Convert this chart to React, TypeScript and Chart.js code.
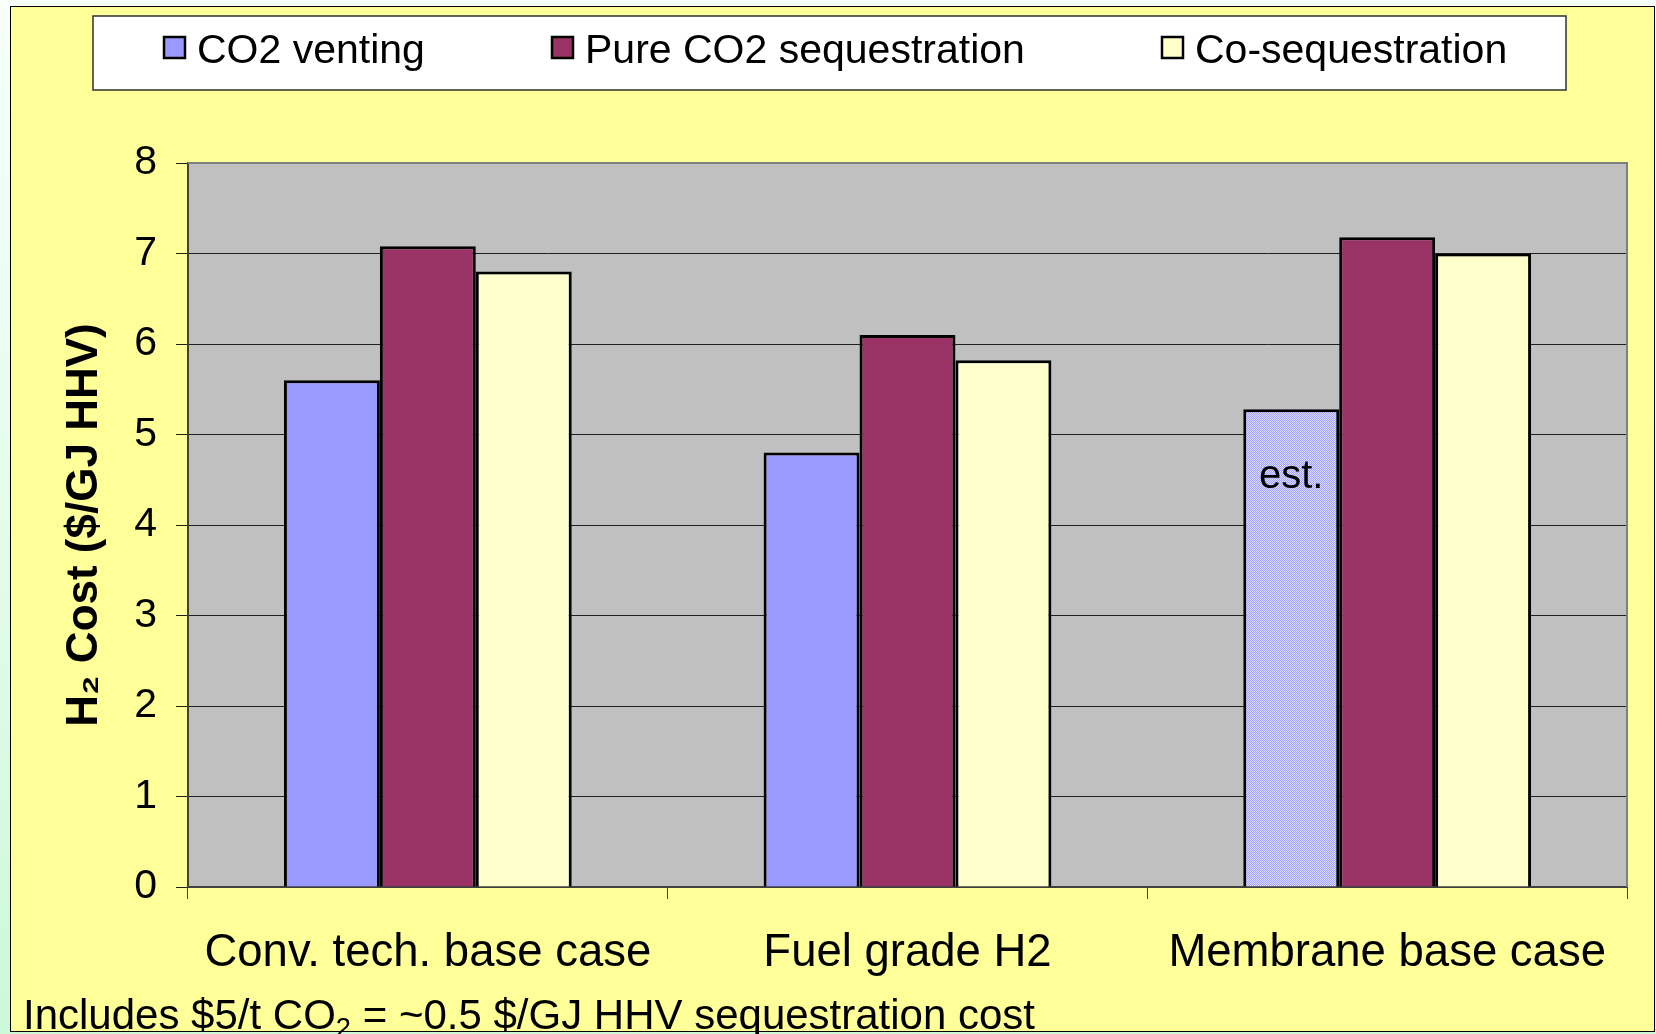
import React, { useEffect, useRef } from 'react';
import { Chart, registerables } from 'chart.js';

Chart.register(...registerables);

// ---------- data ----------
const categories = ['Conv. tech. base case', 'Fuel grade H2', 'Membrane base case'];
const seriesNames = ['CO2 venting', 'Pure CO2 sequestration', 'Co-sequestration'];
const co2Venting = [5.6, 4.8, 5.28];
const pureSequestration = [7.08, 6.1, 7.18];
const coSequestration = [6.8, 5.82, 7.0];
const ventingIsEstimate = [false, false, true];
const estimateLabel = 'est.';
const yMin = 0;
const yMax = 8;
const yStep = 1;
const yTitle = 'H₂ Cost ($/GJ HHV)';

// ---------- layout / style ----------
const W = 1656;
const H = 1034;
const PLOT_LEFT = 188;
const PLOT_RIGHT = 1627;
const PLOT_TOP = 163;
const PLOT_BOTTOM = 887;
const FONT = "'Liberation Sans', Arial, Helvetica, sans-serif";
const COLORS = ['#9999ff', '#993366', '#ffffcc'];
const PLOT_BG = '#c0c0c0';

function makeEstimatePattern(): CanvasPattern | string {
  const c = document.createElement('canvas');
  c.width = 2;
  c.height = 2;
  const g = c.getContext('2d');
  if (!g) return '#c4c4ff';
  g.fillStyle = '#dcdcff';
  g.fillRect(0, 0, 2, 2);
  g.fillStyle = '#a4a4ff';
  g.fillRect(0, 0, 1, 1);
  g.fillRect(1, 1, 1, 1);
  const p = g.createPattern(c, 'repeat');
  return p || '#c4c4ff';
}

const plotBackground = {
  id: 'plotBackground',
  beforeDraw(chart: any) {
    const { ctx, chartArea: a } = chart;
    ctx.save();
    ctx.fillStyle = PLOT_BG;
    ctx.fillRect(a.left, a.top, a.right - a.left, a.bottom - a.top);
    ctx.restore();
  },
  beforeDatasetsDraw(chart: any) {
    const { ctx, chartArea: a } = chart;
    ctx.save();
    ctx.strokeStyle = '#808080';
    ctx.lineWidth = 2;
    ctx.beginPath();
    ctx.moveTo(a.left, a.top);
    ctx.lineTo(a.right, a.top);
    ctx.lineTo(a.right, a.bottom);
    ctx.stroke();
    ctx.restore();
  },
};

const estimateText = {
  id: 'estimateText',
  afterDatasetsDraw(chart: any) {
    const { ctx } = chart;
    const meta = chart.getDatasetMeta(0);
    ctx.save();
    ctx.fillStyle = '#000';
    ctx.font = `40px ${FONT}`;
    ctx.textAlign = 'center';
    ctx.textBaseline = 'alphabetic';
    meta.data.forEach((el: any, i: number) => {
      if (ventingIsEstimate[i]) ctx.fillText(estimateLabel, el.x, el.y + 79);
    });
    ctx.restore();
  },
};

const boxLegend = {
  id: 'boxLegend',
  afterDraw(chart: any) {
    const { ctx } = chart;
    ctx.save();
    ctx.fillStyle = '#ffffff';
    ctx.fillRect(93, 16, 1566 - 93, 90 - 16);
    ctx.strokeStyle = '#303030';
    ctx.lineWidth = 1.5;
    ctx.strokeRect(93, 16, 1566 - 93, 90 - 16);
    const boxX = [164, 552, 1162];
    const boxTop = 37;
    const boxSize = 21;
    ctx.font = `41px ${FONT}`;
    ctx.textBaseline = 'alphabetic';
    ctx.textAlign = 'left';
    chart.data.datasets.forEach((ds: any, i: number) => {
      const bg = Array.isArray(ds.backgroundColor) ? ds.backgroundColor[0] : ds.backgroundColor;
      ctx.fillStyle = bg;
      ctx.fillRect(boxX[i], boxTop, boxSize, boxSize);
      ctx.strokeStyle = '#000';
      ctx.lineWidth = 2.5;
      ctx.strokeRect(boxX[i], boxTop, boxSize, boxSize);
      ctx.fillStyle = '#000';
      ctx.fillText(ds.label, boxX[i] + 33, 63);
    });
    ctx.restore();
  },
};

export default function App() {
  const canvasRef = useRef<HTMLCanvasElement | null>(null);

  useEffect(() => {
    const canvas = canvasRef.current;
    if (!canvas) return;
    const estPattern = makeEstimatePattern();
    const ventingColors = ventingIsEstimate.map((e) => (e ? estPattern : COLORS[0]));

    const common = {
      borderColor: '#000',
      borderWidth: 3,
      categoryPercentage: 0.6,
      barPercentage: 1.0,
    };

    const chart = new Chart(canvas, {
      type: 'bar',
      data: {
        labels: categories,
        datasets: [
          { label: seriesNames[0], data: co2Venting, backgroundColor: ventingColors as any, ...common },
          { label: seriesNames[1], data: pureSequestration, backgroundColor: COLORS[1], ...common },
          { label: seriesNames[2], data: coSequestration, backgroundColor: COLORS[2], ...common },
        ],
      },
      options: {
        animation: false,
        responsive: false,
        devicePixelRatio: 1,
        layout: { padding: { left: 0, right: W - PLOT_RIGHT, top: PLOT_TOP, bottom: 0 } },
        plugins: {
          legend: { display: false },
          tooltip: { enabled: false },
          title: { display: false },
        },
        scales: {
          x: {
            grid: {
              display: true,
              drawOnChartArea: false,
              drawTicks: true,
              tickLength: 12,
              color: '#404040',
              lineWidth: 1,
              offset: true,
            },
            border: { display: true, color: '#404040', width: 2 },
            ticks: {
              font: { family: FONT, size: 45.5 },
              color: '#000',
              padding: 27,
              maxRotation: 0,
              autoSkip: false,
            },
            afterFit: (s: any) => {
              s.height = H - PLOT_BOTTOM;
            },
          },
          y: {
            min: yMin,
            max: yMax,
            ticks: {
              stepSize: yStep,
              font: { family: FONT, size: 41 },
              color: '#000',
              padding: 19,
            },
            grid: { color: '#202020', lineWidth: 1, tickLength: 12, drawTicks: true },
            border: { display: true, color: '#404040', width: 2 },
            title: {
              display: true,
              text: yTitle,
              font: { family: FONT, size: 44, weight: 'bold' },
              color: '#000',
              padding: { top: 58, bottom: 0 },
            },
            afterFit: (s: any) => {
              s.width = PLOT_LEFT;
            },
          },
        },
      } as any,
      plugins: [plotBackground, estimateText, boxLegend],
    });
    return () => chart.destroy();
  }, []);

  return (
    <div
      style={{
        position: 'absolute',
        left: 0,
        top: 0,
        width: W,
        height: H,
        overflow: 'hidden',
        background: 'linear-gradient(to bottom, #f6fff9 0%, #e4fcea 50%, #ccf9d8 100%)',
      }}
    >
      <div
        style={{
          position: 'absolute',
          left: 10,
          top: 6,
          width: 1645,
          height: 1026,
          boxSizing: 'border-box',
          border: '1.5px solid #000',
          background: '#ffff99',
        }}
      />
      <canvas
        ref={canvasRef}
        width={W}
        height={H}
        style={{ position: 'absolute', left: 0, top: 0, width: W, height: H }}
      />
      <div
        style={{
          position: 'absolute',
          left: 23,
          top: 994,
          fontFamily: FONT,
          fontSize: 42,
          lineHeight: '42px',
          whiteSpace: 'nowrap',
          color: '#000',
        }}
      >
        Includes $5/t CO
        <span style={{ fontSize: '0.65em', position: 'relative', top: '0.3em' }}>2</span> = ~0.5 $/GJ
        HHV sequestration cost
      </div>
    </div>
  );
}
